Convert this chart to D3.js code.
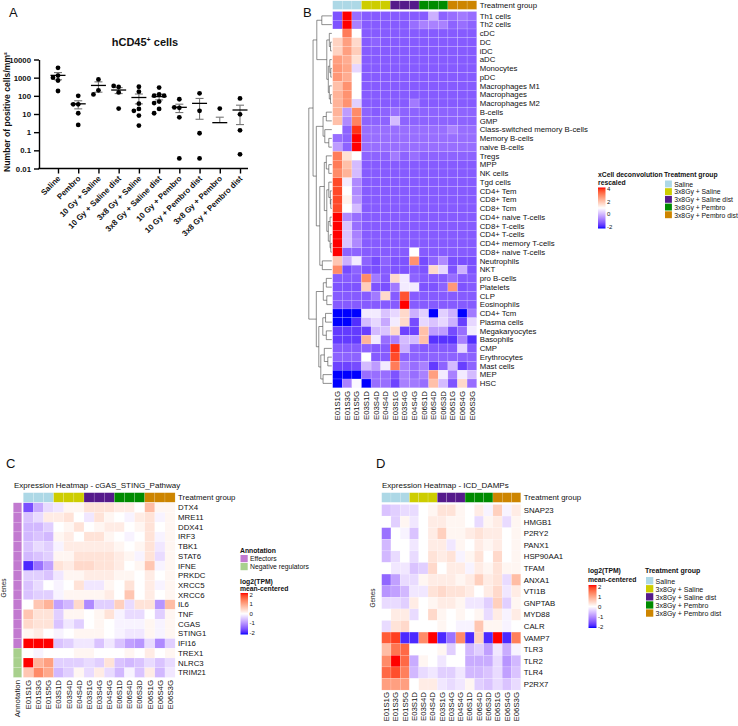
<!DOCTYPE html>
<html lang="en">
<head>
<meta charset="UTF-8" />
<title>hCD45 + xCell + expression heatmaps</title>
<script src="https://cdn.jsdelivr.net/npm/d3@7"></script>
<style>
  body { margin: 0; background: #fff; }
  text { font-family: "Liberation Sans", Arial, Helvetica, sans-serif; fill: #111; }
</style>
</head>
<body>
<div id="main"></div>
<script>
// ---------- panel A data ----------
const groupsA = ["Saline", "Pembro", "10 Gy + Saline", "10 Gy + Saline dist", "3x8 Gy + Saline",
    "3x8 Gy + Saline dist", "10 Gy + Pembro", "10 Gy + Pembro dist", "3x8 Gy + Pembro", "3x8 Gy + Pembro dist"]
const cellsA = [
    [3500, 1300, 1000, 700, 185],
    [100, 34, 34, 11, 2.5],
    [800, 200, 120],
    [310, 350, 155, 20],
    [316, 169, 37, 19, 15, 8.2, 2.3],
    [284, 120, 102, 102, 48, 40, 19, 11],
    [65, 22, 23, 6.6, 0.036],
    [138, 15, 0.87, 0.036],
    [20, 0, 0, 0, 0, 0],
    [72, 9.6, 1.26, 0.06, 0]
]
const ticksA = [0.01, 0.1, 1, 10, 100, 1000, 10000]

// ---------- shared sample annotation ----------
const samples = ["E01S1G", "E01S3G", "E01S5G", "E03S1D", "E03S4D", "E04S4D", "E03S1G", "E03S4G",
    "E04S4G", "E06S1D", "E06S4D", "E06S3D", "E06S1G", "E06S4G", "E06S3G"]
const treatments = ["Saline", "3x8Gy + Saline", "3x8Gy + Saline dist", "3x8Gy + Pembro", "3x8Gy + Pembro dist"]
const treatmentColors = ["#add8e6", "#cdcd00", "#551a8b", "#008b00", "#cd8500"]
const sampleGroup = [0, 0, 0, 1, 1, 1, 2, 2, 2, 3, 3, 3, 4, 4, 4]

// ---------- panel B data ----------
const cellTypes = ["Th1 cells", "Th2 cells", "cDC", "DC", "iDC", "aDC", "Monocytes", "pDC", "Macrophages M1",
    "Macrophages", "Macrophages M2", "B-cells", "GMP", "Class-switched memory B-cells", "Memory B-cells",
    "naive B-cells", "Tregs", "MPP", "NK cells", "Tgd cells", "CD4+ Tem", "CD8+ Tem", "CD8+ Tcm",
    "CD4+ naive T-cells", "CD8+ T-cells", "CD4+ T-cells", "CD4+ memory T-cells", "CD8+ naive T-cells",
    "Neutrophils", "NKT", "pro B-cells", "Platelets", "CLP", "Eosinophils", "CD4+ Tcm", "Plasma cells",
    "Megakaryocytes", "Basophils", "CMP", "Erythrocytes", "Mast cells", "MEP", "HSC"]
const xcell = [
    [-1.2, 4, -0.85, -1.1, -1.1, -1.1, -1.1, -1.1, -1.1, -1.1, 0, -1.0, -0.85, -0.7, -0.85],
    [-1.2, 4, -0.6, -1.1, -1.1, -1.1, -1.1, -1.1, -0.85, -0.6, -0.6, -0.6, -1.0, -0.85, -1.0],
    [1.0, 3.0, 1.0, -1.1, -1.1, -1.1, -1.1, -1.1, -1.1, -1.1, -1.1, -1.1, -1.1, -1.1, -1.1],
    [1.7, 2.5, 1.6, -1.1, -1.0, -1.1, -1.1, -1.1, -1.1, -1.1, -1.1, -1.1, -1.1, -1.1, -1.1],
    [1.7, 2.5, 1.8, -1.1, -1.1, -1.1, -1.1, -1.1, -1.1, -1.1, -1.1, -1.1, -1.1, -1.1, -1.1],
    [2.5, 2.3, 1.5, -1.1, -1.1, -1.1, -1.1, -1.1, -1.1, -1.1, -1.1, -1.1, -1.1, -1.1, -1.1],
    [2.6, 2.4, 0.5, -1.1, -1.1, -1.1, -1.1, -1.1, -1.1, -1.1, -1.1, -1.1, -1.1, -1.1, -1.1],
    [2.6, 2.3, 1.0, -1.1, -1.1, -1.1, -1.1, -1.1, -1.1, -1.1, -1.1, -1.1, -1.1, -1.1, -1.1],
    [2.0, 2.7, 1.0, -1.1, -1.1, -1.1, -1.1, -1.1, -1.1, -1.1, -1.1, -1.1, -1.1, -1.1, -1.1],
    [2.2, 2.7, 1.0, -1.1, -1.1, -1.1, -1.1, -1.1, -1.1, -1.1, -1.1, -1.1, -1.1, -1.1, -1.1],
    [2.2, 2.7, 0.4, -1.1, -1.1, -1.1, -1.1, -1.1, -0.7, -1.1, -1.1, -1.1, -1.1, -1.1, -1.1],
    [2.2, -0.25, 2.8, -1.0, -1.1, -1.0, -0.85, -1.0, -1.0, -1.0, -1.0, -1.0, -1.0, -1.0, -1.0],
    [2.0, -0.5, 2.9, -1.0, -1.0, -1.0, 0.15, -1.0, -1.0, -1.0, -1.0, -1.0, -1.0, -1.0, -1.0],
    [1.0, -1.0, 3.8, -0.85, -0.85, -0.85, -0.85, -0.85, -0.85, -0.85, -0.85, -0.85, -0.6, -0.85, -0.85],
    [-0.85, -1.0, 4.0, -0.85, -0.85, -0.85, -0.85, -0.85, -0.85, -0.85, -0.85, -0.85, -0.85, -0.85, -0.85],
    [-0.25, -1.0, 4.0, -0.85, -0.85, -0.85, -0.85, -0.85, -0.85, -0.85, -0.85, -0.85, -0.85, -0.85, -0.85],
    [3.0, 1.5, 1.0, -1.0, -1.0, -1.0, -0.7, -1.0, -0.85, -1.0, -1.0, -1.0, -1.0, -1.0, -1.0],
    [3.0, 2.0, 0.15, -1.1, -1.1, -1.1, -1.1, -1.1, -1.1, -1.1, -1.1, -1.1, -1.1, -1.1, -1.1],
    [2.8, 2.2, 0.15, -1.1, -1.1, -1.1, -1.1, -1.1, -1.1, -1.1, -1.1, -1.1, -1.1, -1.1, -1.1],
    [3.6, 0.75, -0.5, -1.1, -1.1, -1.1, -1.1, -1.1, -1.1, -1.1, -1.1, -1.1, -1.1, -1.1, -1.1],
    [3.6, 1.0, -0.5, -1.1, -1.1, -1.1, -1.1, -1.1, -1.1, -1.1, -1.1, -1.1, -1.1, -1.1, -1.1],
    [3.6, 1.2, -0.35, -1.1, -1.1, -1.1, -1.1, -1.1, -1.1, -1.1, -1.1, -1.1, -1.1, -1.1, -1.1],
    [3.6, 1.0, 0.15, -1.1, -1.1, -1.1, -1.1, -1.1, -1.1, -1.1, -1.1, -1.1, -1.1, -1.1, -1.1],
    [4.0, -0.5, -0.85, -1.1, -1.1, -1.1, -1.1, -1.1, -1.1, -1.1, -1.1, -1.1, -1.1, -1.1, -1.1],
    [4.0, 0.25, -0.85, -1.1, -1.1, -1.1, -1.1, -1.1, -1.1, -1.1, -1.1, -1.1, -1.1, -1.1, -1.1],
    [4.0, 0.25, -0.6, -1.1, -1.1, -1.1, -1.1, -1.1, -1.1, -1.1, -1.1, -1.1, -1.1, -1.1, -1.1],
    [4.0, 0.25, -0.5, -1.1, -1.1, -1.1, -1.1, -1.1, -1.1, -1.1, -1.1, -1.1, -1.1, -1.1, -1.1],
    [4.0, -1.0, -1.0, -1.1, -1.1, -1.1, -1.1, -1.1, 1.0, -1.1, -1.1, -1.1, -1.1, -1.1, -1.1],
    [1.9, 0, 0.75, -1.0, -1.3, -1.0, -1.2, -1.2, 2.7, -1.3, -1.0, -0.5, -1.25, -1.25, -1.25],
    [2.8, -1.3, -1.0, -1.2, -1.25, -1.1, -1.2, -1.2, -1.1, -1.2, 1.6, 0.5, -1.2, 0, -1.2],
    [-1.1, -1.1, -1.1, 2.8, -0.7, -1.1, 1.6, 0.75, -1.0, -1.1, -1.1, -1.1, -0.85, -1.1, -1.1],
    [-1.2, -1.2, -1.2, 1.8, -1.2, -1.25, -0.7, 0.75, 0.75, -1.2, -1.2, -1.0, 2.6, -1.2, -1.1],
    [-1.1, -1.1, -1.1, -1.1, -0.7, 1.6, -1.1, 3.5, -1.1, -1.1, -1.1, -1.1, -1.1, -1.1, -1.1],
    [-1.1, -1.1, -1.1, -1.1, -1.1, -1.1, -1.1, 4.0, -1.1, -1.1, -1.1, -1.1, -1.1, -1.1, -1.1],
    [-2, -2, -2, 0.75, 0.75, 0.25, 0.5, 1.6, 0, 0.4, -2, 0.4, 0, -2, -0.7],
    [-2, -2, -1.65, 0.15, 0.5, -0.1, 0.75, 1.6, -1.3, 0.5, 0.25, 0.5, 0, -1.45, 0.5],
    [-1.5, -1.5, -1.5, -1.45, 0.15, 0.25, 1.6, -1.4, -1.4, 2.0, -0.25, -0.25, -1.3, -0.85, 0.75],
    [-1.5, -1.5, -1.5, 2.2, 0.75, -0.85, -0.6, 0.15, 0.15, 2.0, -1.6, -1.6, -1.6, -0.6, -1.65],
    [-1.1, -1.1, -1.1, -1.0, -1.1, -1.1, 3.8, 0, -1.0, -1.1, -1.1, -1.1, -1.1, 0.5, -1.1],
    [-1.0, -1.0, -1.0, 1.0, -1.1, -1.1, 3.6, -1.0, -1.0, -1.0, -1.0, -1.0, -1.0, -1.0, -1.0],
    [-1.4, -1.4, -1.3, 0.15, -0.25, 0.75, 3.0, -0.6, -0.85, -0.6, -1.5, -1.0, 0.15, -1.45, -1.0],
    [-2, -2, -2, -0.85, -0.85, -0.85, -1.2, -0.6, -0.85, -0.6, 2.5, 0.75, -0.6, 0.75, 0.15],
    [-2, -0.6, 0.9, -2, -0.85, -0.85, -1.4, -0.6, -0.7, -0.85, 2.0, 0.15, -1.2, 1.6, -0.85]
]
// row dendrogram: [height, left, right], leaves are row indices
const dendroB = [0.92,
    [0.75,
        [0.6, [0.4, 0, 1], [0.2, [0.1, 2, [0.05, 3, 4]], [0.14, [0.08, 5, [0.04, 6, 7]], [0.1, 8, [0.05, 9, 10]]]]],
        [0.62,
            [0.35, [0.22, 11, 12], [0.28, 13, [0.12, 14, 15]]],
            [0.48, [0.3, [0.22, 16, [0.12, 17, 18]], [0.2, [0.12, 19, [0.06, 20, [0.04, 21, 22]]],
                [0.14, [0.07, 23, 24], [0.07, 25, [0.04, 26, 27]]]]], [0.38, 28, 29]]]],
    [0.62, [0.34, [0.22, 30, 31], [0.2, 32, 33]],
        [0.52, [0.36, [0.25, 34, 35], [0.22, 36, 37]], [0.44, [0.3, 38, [0.16, 39, 40]], [0.35, 41, 42]]]]]

// ---------- panel C data ----------
const genesC = ["DTX4", "MRE11", "DDX41", "IRF3", "TBK1", "STAT6", "IFNE", "PRKDC", "XRCC5", "XRCC6",
    "IL6", "TNF", "CGAS", "STING1", "IFI16", "TREX1", "NLRC3", "TRIM21"]
const annotNames = ["Effectors", "Negative regulators"]
const annotColors = ["#c27ad0", "#a8d08d"]
const annotC = [0, 0, 0, 0, 0, 0, 0, 0, 0, 0, 0, 0, 0, 0, 0, 1, 1, 1]
const exprC = [
    [-1.5, -0.7, -0.3, -0.2, 0.1, 0.1, 0.3, 0.3, 0.3, 0.2, 0.2, 0.0, 0.7, 0.1, 0.1],
    [-0.5, -0.3, 0.2, 0.2, 0.3, 0.0, -0.2, 0.3, 0.1, 0.0, -0.1, 0.2, 0.3, -0.1, 0.1],
    [-0.6, -0.6, -0.4, 0.0, 0.1, 0.3, 0.0, 0.1, 0.2, 0.2, 0.0, 0.1, 0.3, 0.0, 0.1],
    [-0.6, -0.5, -0.6, 0.1, 0.2, 0.0, 0.3, 0.3, 0.1, 0.0, -0.1, 0.0, 0.3, -0.1, 0.1],
    [-0.5, -0.3, -0.4, -0.1, 0.2, 0.2, 0.2, 0.2, 0.2, 0.1, 0.0, 0.1, 0.3, -0.2, 0.1],
    [-0.6, -0.5, -0.4, 0.1, 0.1, 0.3, 0.3, 0.3, 0.3, 0.2, 0.1, -0.1, 0.3, -0.3, 0.1],
    [-1.8, -1.2, -0.8, 0.3, 0.2, 0.4, 0.4, 0.3, 0.3, 0.2, 0.0, 0.1, 0.6, -0.1, 0.1],
    [-0.4, -0.4, -0.5, -0.2, 0.1, 0.1, 0.2, 0.2, 0.2, 0.1, 0.1, 0.0, 0.2, 0.0, 0.1],
    [-0.5, -0.3, 0.0, -0.1, 0.0, 0.3, -0.2, -0.2, 0.1, 0.0, 0.3, 0.0, 0.2, -0.1, 0.1],
    [-0.5, -0.4, -0.4, -0.1, 0.1, 0.1, 0.1, 0.1, 0.2, 0.0, 0.6, 0.0, 0.2, 0.0, 0.1],
    [0.0, 0.6, 0.8, -0.8, -0.6, 0.4, -1.0, -0.4, -0.4, 0.5, -0.3, 0.3, 0.3, -0.9, 0.7],
    [0.6, 0.3, 0.3, -0.4, 0.1, 0.1, 0.0, 0.1, 0.3, -0.1, -0.3, -0.3, 0.0, -0.4, 0.1],
    [0.4, 0.3, 0.3, -0.5, -0.2, -0.4, 0.0, 0.1, 0.0, -0.1, -0.1, -0.1, 0.1, -0.1, 0.1],
    [0.1, 0.2, 0.0, -0.1, 0.0, 0.1, 0.1, 0.1, 0.0, -0.1, -0.2, -0.2, 0.1, -0.1, 0.1],
    [2.0, 2.0, 2.0, -0.5, -0.4, -0.2, -0.2, -0.5, -0.2, -0.5, -0.8, -0.9, -0.3, -1.0, -0.4],
    [0.0, -0.1, 0.0, 0.0, 0.0, 0.1, 0.1, 0.0, 0.0, 0.0, 0.1, 0.0, 0.2, 0.0, 0.1],
    [2.0, 0.8, 1.0, -0.4, -0.4, -0.4, -0.3, -0.4, 0.3, -0.5, -0.6, -0.5, -0.3, -0.5, -0.3],
    [0.6, 1.2, 0.9, -0.6, -0.4, 0.1, -0.3, 0.2, -0.3, -0.6, -0.1, -0.5, 0.2, -0.6, -0.2]
]

// ---------- panel D data ----------
const genesD = ["SNAP23", "HMGB1", "P2RY2", "PANX1", "HSP90AA1", "TFAM", "ANXA1", "VTI1B", "GNPTAB",
    "MYD88", "CALR", "VAMP7", "TLR3", "TLR2", "TLR4", "P2RX7"]
const exprD = [
    [-0.5, -0.4, -0.3, -0.3, 0.0, 0.1, 0.3, 0.3, 0.1, 0.0, 0.2, -0.1, 0.5, -0.1, 0.2],
    [0.0, -0.4, 0.1, -0.2, 0.0, 0.2, 0.2, 0.1, 0.1, 0.0, -0.3, 0.1, 0.2, -0.3, 0.1],
    [-1.2, 0.0, -0.1, -0.5, 0.0, 0.2, 0.5, 0.1, 0.1, 0.2, 0.3, 0.2, 0.2, 0.0, 0.1],
    [-0.6, 0.0, 0.0, -0.2, 0.0, 0.2, 0.2, -0.2, 0.1, 0.0, 0.2, 0.1, 0.2, 0.0, 0.1],
    [-0.6, -0.3, 0.0, -0.3, 0.0, 0.3, 0.2, 0.3, -0.1, 0.1, 0.3, 0.0, 0.4, 0.0, 0.1],
    [0.0, -0.2, -0.2, -0.5, -0.4, 0.4, 0.0, 0.2, 0.2, -0.1, 0.2, 0.1, 0.3, 0.1, 0.1],
    [-1.3, -0.8, -0.3, -0.3, 0.1, 0.2, 0.2, 0.2, 0.1, 0.2, 0.5, 0.2, 0.3, -0.3, 0.7],
    [-0.9, -0.8, -0.6, -0.2, -0.2, 0.3, 0.4, 0.3, 0.3, 0.2, 0.0, 0.2, 0.4, -0.2, 0.2],
    [-0.3, -0.3, -0.4, 0.2, 0.0, 0.1, 0.2, 0.2, 0.1, -0.2, -0.2, -0.4, 0.5, -0.4, 0.1],
    [0.0, 0.2, 0.2, -0.3, 0.0, 0.4, 0.1, 0.0, 0.1, 0.0, 0.1, -0.3, 0.2, -0.1, 0.2],
    [-0.3, 0.3, 0.4, 0.0, 0.0, 0.0, 0.1, 0.0, -0.1, -0.1, 0.6, 0.1, 0.1, -0.1, 0.0],
    [1.6, 1.8, -1.8, -1.8, 1.2, 2.0, -1.8, -1.2, 1.2, -1.8, 0.5, -1.8, 2.0, -1.8, 1.3],
    [0.7, 1.4, 1.5, 0.0, 0.0, 0.0, 0.1, -0.4, 0.0, -0.6, -0.4, -0.8, -0.2, -0.7, -0.1],
    [1.2, 2.0, 1.5, -0.7, 0.1, 0.0, -0.2, 0.0, 0.0, -0.7, -0.7, -0.7, -0.3, -0.9, -0.6],
    [1.5, 1.7, 1.3, -0.6, -0.3, -0.2, -0.4, -0.4, -0.2, -0.6, -0.6, -0.5, -0.3, -0.8, -0.5],
    [1.0, 1.0, 1.0, 0.0, 0.2, 0.2, -0.2, -0.3, -0.2, 0.1, -0.4, -0.5, -0.3, -0.5, -0.3]
]

const colorB = d3.scaleLinear().domain([-2, 1, 4]).range(["#0000ff", "#ffffff", "#ff0000"])
    .interpolate(d3.interpolateLab).clamp(true)
const colorCD = d3.scaleLinear().domain([-2, 0, 2]).range(["#0000ff", "#ffffff", "#ff0000"])
    .interpolate(d3.interpolateLab).clamp(true)

const svg = d3.select("#main").append("svg").attr("width", 738).attr("height", 726)
const defs = svg.append("defs")

function panelLetter(x, y, s) {
    svg.append("text").attr("x", x).attr("y", y).attr("font-size", 13).text(s)
}

// ================= panel A =================
drawPanelA()
function drawPanelA() {
    panelLetter(9, 17, "A")
    const y = d3.scaleLog().domain([0.01, 10000]).range([168.5, 59.5])
    const x = d3.scalePoint().domain(groupsA).range([58, 240])
    const g = svg.append("g")

    g.append("text").attr("x", 145).attr("y", 46).attr("text-anchor", "middle")
        .attr("font-size", 11).attr("font-weight", "bold")
        .call(t => {
            t.append("tspan").text("hCD45")
            t.append("tspan").attr("font-size", 7).attr("dy", -4).text("+")
            t.append("tspan").attr("dy", 4).text(" cells")
        })

    const ya = g.append("g").attr("transform", "translate(39,0)")
        .call(d3.axisLeft(y).tickValues(ticksA).tickFormat(d => String(d)).tickSize(5).tickSizeOuter(0))
    ya.select(".domain").attr("stroke-width", 1.4)
    ya.selectAll(".tick line").attr("stroke-width", 1.4)
    ya.selectAll(".tick text").attr("font-size", 7.8).attr("font-weight", "bold")
        .attr("font-family", "Liberation Sans, Arial, sans-serif").attr("fill", "#111")

    const xa = g.append("g").attr("transform", "translate(0,168.5)")
        .call(d3.axisBottom(x).tickSize(5).tickFormat(""))
    xa.select(".domain").remove()
    xa.selectAll(".tick line").attr("stroke-width", 1.4)
    g.append("line").attr("x1", 38.3).attr("x2", 248).attr("y1", 168.5).attr("y2", 168.5)
        .attr("stroke", "#000").attr("stroke-width", 1.4)

    g.selectAll("text.xl").data(groupsA).join("text").classed("xl", true)
        .attr("transform", d => `translate(${x(d) + 3},${179}) rotate(-45)`)
        .attr("text-anchor", "end").attr("font-size", 8).attr("font-weight", "bold").text(d => d)

    g.append("text").attr("transform", "translate(10,112) rotate(-90)").attr("text-anchor", "middle")
        .attr("font-size", 8.6).attr("font-weight", "bold").text("Number of positive cells/mm²")

    cellsA.forEach((vals, gi) => {
        const cx = x(groupsA[gi])
        const mean = d3.mean(vals)
        const sem = d3.deviation(vals) / Math.sqrt(vals.length)
        const hi = mean + sem
        const lo = mean - sem
        const yLo = lo > 0.01 ? y(lo) : null
        // error bar
        g.append("line").attr("x1", cx).attr("x2", cx).attr("y1", y(hi)).attr("y2", yLo === null ? y(mean) : yLo)
            .attr("stroke", "#777").attr("stroke-width", 1.1)
        g.append("line").attr("x1", cx - 4).attr("x2", cx + 4).attr("y1", y(hi)).attr("y2", y(hi))
            .attr("stroke", "#777").attr("stroke-width", 1.1)
        if (yLo !== null) {
            g.append("line").attr("x1", cx - 4).attr("x2", cx + 4).attr("y1", yLo).attr("y2", yLo)
                .attr("stroke", "#777").attr("stroke-width", 1.1)
        }
        g.append("line").attr("x1", cx - 7.5).attr("x2", cx + 7.5).attr("y1", y(mean)).attr("y2", y(mean))
            .attr("stroke", "#000").attr("stroke-width", 1.3)

        // simple swarm so overlapping dots are spread sideways
        const placed = []
        vals.filter(v => v > 0).forEach(v => {
            const py = y(v)
            for (let k = 0; k < 9; k++) {
                const off = k === 0 ? 0 : (k % 2 ? -1 : 1) * Math.ceil(k / 2) * 5
                if (placed.every(p => Math.hypot(p.x - (cx + off), p.y - py) >= 4.8)) {
                    placed.push({ x: cx + off, y: py })
                    break
                }
            }
        })
        g.selectAll(null).data(placed).join("circle")
            .attr("cx", d => d.x).attr("cy", d => d.y).attr("r", 2.4).attr("fill", "#000")
    })
}

// ================= heatmap helpers =================
function drawHeatmap(opt) {
    const { x0, y0, cw, rh, rows, values, color, barY, barH, fs, colLabelY } = opt
    const g = svg.append("g")
    const x = d3.scaleBand().domain(d3.range(samples.length)).range([x0, x0 + samples.length * cw])
    const y = d3.scaleBand().domain(d3.range(rows.length)).range([y0, y0 + rows.length * rh])

    // treatment bar
    g.selectAll("rect.bar").data(samples).join("rect").classed("bar", true)
        .attr("x", (d, i) => x(i)).attr("y", barY).attr("width", x.bandwidth()).attr("height", barH)
        .attr("fill", (d, i) => treatmentColors[sampleGroup[i]])
        .attr("stroke", "#fff").attr("stroke-opacity", 0.35).attr("stroke-width", 0.4)
    g.append("text").attr("x", x0 + samples.length * cw + 3).attr("y", barY + barH / 2).attr("dy", "0.35em")
        .attr("font-size", fs).text("Treatment group")

    const cells = []
    values.forEach((row, r) => row.forEach((v, c) => cells.push({ r, c, v })))
    g.selectAll("rect.cell").data(cells).join("rect").classed("cell", true)
        .attr("x", d => x(d.c)).attr("y", d => y(d.r)).attr("width", x.bandwidth()).attr("height", y.bandwidth())
        .attr("fill", d => color(d.v))
        .attr("stroke", "#fff").attr("stroke-opacity", 0.35).attr("stroke-width", 0.4)

    g.selectAll("text.row").data(rows).join("text").classed("row", true)
        .attr("x", x0 + samples.length * cw + 3).attr("y", (d, i) => y(i) + rh / 2).attr("dy", "0.35em")
        .attr("font-size", fs).text(d => d)

    g.selectAll("text.col").data(samples).join("text").classed("col", true)
        .attr("transform", (d, i) => `translate(${x(i) + cw / 2},${colLabelY}) rotate(-90)`)
        .attr("dy", "0.35em").attr("text-anchor", "end").attr("font-size", fs).text(d => d)
    return { g, x, y }
}

function colorBar(id, color, domain, bx, by, bw, bh, ticks, fs) {
    const grad = defs.append("linearGradient").attr("id", id).attr("x1", 0).attr("x2", 0).attr("y1", 0).attr("y2", 1)
    d3.range(0, 1.0001, 0.05).forEach(t => {
        grad.append("stop").attr("offset", t).attr("stop-color", color(domain[1] + (domain[0] - domain[1]) * t))
    })
    svg.append("rect").attr("x", bx).attr("y", by).attr("width", bw).attr("height", bh).attr("fill", `url(#${id})`)
    const s = d3.scaleLinear().domain(domain).range([by + bh - 1.5, by + 1.5])
    svg.selectAll(null).data(ticks).join("text")
        .attr("x", bx + bw + 1.5).attr("y", d => s(d)).attr("dy", "0.35em").attr("font-size", fs).text(d => d)
}

function treatmentLegend(lx, ly, step, fs) {
    svg.append("text").attr("x", lx).attr("y", ly).attr("font-size", fs).attr("font-weight", "bold").text("Treatment group")
    svg.selectAll(null).data(treatments).join("rect")
        .attr("x", lx + 1).attr("y", (d, i) => ly + 4 + i * step).attr("width", step - 0.8).attr("height", step - 0.8)
        .attr("fill", (d, i) => treatmentColors[i])
    svg.selectAll(null).data(treatments).join("text")
        .attr("x", lx + step + 2.5).attr("y", (d, i) => ly + 4 + i * step + step / 2).attr("dy", "0.35em")
        .attr("font-size", fs).attr("fill", "#222").text(d => d)
}

function drawDendro(g, node, xOf, yOf) {
    if (typeof node === "number") return { y: yOf(node), h: 0 }
    const [h, a, b] = node
    const A = drawDendro(g, a, xOf, yOf)
    const B = drawDendro(g, b, xOf, yOf)
    const path = `M${xOf(A.h)},${A.y}H${xOf(h)}V${B.y}H${xOf(B.h)}`
    g.append("path").attr("d", path).attr("fill", "none").attr("stroke", "#444").attr("stroke-width", 0.6)
    return { y: (A.y + B.y) / 2, h }
}

// ================= panel B =================
panelLetter(303, 17, "B")
const hmB = drawHeatmap({
    x0: 332.7, y0: 11.5, cw: 9.6, rh: 8.75, rows: cellTypes, values: xcell, color: colorB,
    barY: 0.8, barH: 8.6, fs: 7.8, colLabelY: 391
})
drawDendro(svg.append("g"), dendroB, h => 331.8 - h * 25, i => 11.5 + 8.75 * (i + 0.5))
svg.append("text").attr("x", 598).attr("y", 176.5).attr("font-size", 6.8).attr("font-weight", "bold").text("xCell deconvolution")
svg.append("text").attr("x", 598).attr("y", 184.5).attr("font-size", 6.8).attr("font-weight", "bold").text("rescaled")
colorBar("gradB", colorB, [-2, 4], 598, 187.5, 7.5, 41, [4, 2, 0, -2], 6)
treatmentLegend(664, 176.5, 7.7, 6.8)

// ================= panel C =================
panelLetter(6, 468, "C")
svg.append("text").attr("x", 14).attr("y", 488).attr("font-size", 8).text("Expression Heatmap - cGAS_STING_Pathway")
drawHeatmap({
    x0: 23.3, y0: 502.8, cw: 10.12, rh: 9.7, rows: genesC, values: exprC, color: colorCD,
    barY: 492.7, barH: 9.6, fs: 7.8, colLabelY: 680
})
svg.selectAll("rect.annot").data(annotC).join("rect").classed("annot", true)
    .attr("x", 13.3).attr("y", (d, i) => 502.8 + i * 9.7).attr("width", 8.4).attr("height", 9.7)
    .attr("fill", d => annotColors[d]).attr("stroke", "#fff").attr("stroke-opacity", 0.35).attr("stroke-width", 0.4)
svg.append("text").attr("transform", "translate(17.5,680) rotate(-90)").attr("dy", "0.35em")
    .attr("text-anchor", "end").attr("font-size", 7.8).text("Annotation")
svg.append("text").attr("transform", "translate(6,588) rotate(-90)").attr("text-anchor", "middle")
    .attr("font-size", 6.5).text("Genes")
svg.append("text").attr("x", 240).attr("y", 552.5).attr("font-size", 6.8).attr("font-weight", "bold").text("Annotation")
svg.selectAll(null).data(annotNames).join("rect")
    .attr("x", 240.5).attr("y", (d, i) => 555 + i * 8).attr("width", 7.2).attr("height", 7.2)
    .attr("fill", (d, i) => annotColors[i])
svg.selectAll(null).data(annotNames).join("text")
    .attr("x", 250).attr("y", (d, i) => 558.8 + i * 8).attr("dy", "0.35em").attr("font-size", 6.8)
    .attr("fill", "#222").text(d => d)
svg.append("text").attr("x", 240).attr("y", 583.5).attr("font-size", 6.8).attr("font-weight", "bold").text("log2(TPM)")
svg.append("text").attr("x", 240).attr("y", 590.5).attr("font-size", 6.8).attr("font-weight", "bold").text("mean-centered")
colorBar("gradC", colorCD, [-2, 2], 240.5, 593, 7.5, 41.5, [2, 1, 0, -1, -2], 6)

// ================= panel D =================
panelLetter(376, 468, "D")
svg.append("text").attr("x", 382).attr("y", 488).attr("font-size", 8).text("Expression Heatmap - ICD_DAMPs")
drawHeatmap({
    x0: 381.7, y0: 504.5, cw: 9.27, rh: 11.6, rows: genesD, values: exprD, color: colorCD,
    barY: 492.7, barH: 9.6, fs: 7.8, colLabelY: 692
})
svg.append("text").attr("transform", "translate(375,598) rotate(-90)").attr("text-anchor", "middle")
    .attr("font-size", 6.5).text("Genes")
svg.append("text").attr("x", 588).attr("y", 573).attr("font-size", 6.8).attr("font-weight", "bold").text("log2(TPM)")
svg.append("text").attr("x", 588).attr("y", 581.5).attr("font-size", 6.8).attr("font-weight", "bold").text("mean-centered")
colorBar("gradD", colorCD, [-2, 2], 588.5, 585, 8, 43, [2, 1, 0, -1, -2], 6)
treatmentLegend(645, 573, 8.1, 7)
</script>
</body>
</html>
